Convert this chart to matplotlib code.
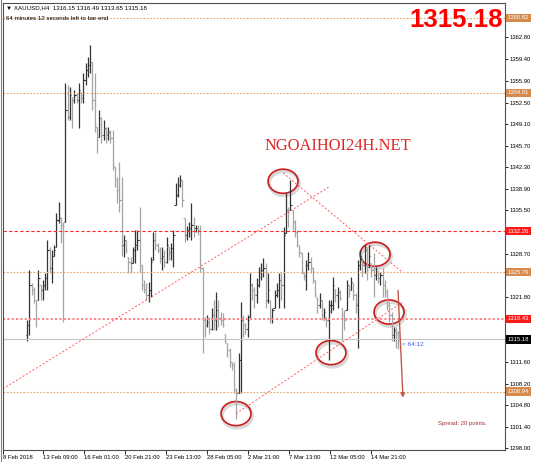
import matplotlib
matplotlib.use("Agg")
import matplotlib.pyplot as plt
import matplotlib.transforms as mtrans
from matplotlib.patches import Ellipse
from matplotlib.lines import Line2D
import numpy as np

# XAUUSD H4 bars (oldest -> newest)
highs = [
    1318.2, 1326.1, 1324.0, 1323.4, 1321.4, 1326.1, 1323.7, 1324.5, 1325.6, 1330.8,
    1329.7, 1329.2, 1330.0, 1335.1, 1336.8, 1334.4, 1333.7, 1355.6, 1355.3, 1354.9,
    1353.4, 1354.5, 1354.0, 1355.6, 1354.2, 1357.1, 1358.7, 1359.7, 1361.6, 1358.9,
    1357.1, 1348.6, 1351.3, 1350.2, 1349.7, 1348.6, 1348.6, 1348.2, 1348.2, 1342.3,
    1340.7, 1343.1, 1340.7, 1331.6, 1330.8, 1328.1, 1328.1, 1329.7, 1332.4, 1332.4,
    1336.0, 1326.9, 1324.5, 1324.0, 1324.2, 1328.1, 1332.1, 1332.1, 1330.3, 1329.7,
    1329.7, 1329.2, 1331.3, 1329.7, 1330.3, 1332.4, 1339.8, 1340.7, 1341.1, 1340.3,
    1334.3, 1333.0, 1333.7, 1336.6, 1334.4, 1333.2, 1333.2, 1333.2, 1326.6, 1318.7,
    1319.0, 1318.7, 1320.2, 1321.4, 1322.6, 1321.4, 1319.5, 1319.3, 1316.1, 1314.6,
    1313.8, 1311.6, 1311.6, 1307.6, 1313.0, 1321.0, 1319.0, 1317.7, 1319.0, 1325.6,
    1324.0, 1323.4, 1324.8, 1326.6, 1327.2, 1328.0, 1327.2, 1325.6, 1321.4, 1320.2,
    1322.9, 1324.0, 1325.6, 1325.6, 1332.9, 1338.2, 1336.0, 1340.3, 1335.5, 1334.0,
    1332.4, 1330.0, 1328.8, 1325.6, 1327.7, 1328.9, 1328.1, 1326.6, 1324.5, 1321.8,
    1322.5, 1321.4, 1320.2, 1318.7, 1321.4, 1321.4, 1325.0, 1323.2, 1323.4, 1322.9,
    1320.2, 1319.8, 1324.5, 1323.7, 1325.0, 1324.0, 1322.5, 1327.7, 1329.2, 1327.7,
    1330.0, 1329.7, 1330.0, 1327.2, 1328.8, 1326.6, 1326.1, 1325.8, 1326.4, 1324.5,
    1323.2, 1321.0, 1319.5, 1317.1, 1317.1, 1316.49]
lows = [
    1315.0, 1315.8, 1322.1, 1320.9, 1317.1, 1321.4, 1321.4, 1321.4, 1322.9, 1322.9,
    1325.6, 1324.0, 1328.4, 1329.7, 1333.5, 1330.3, 1317.9, 1333.7, 1349.7, 1349.7,
    1348.5, 1352.4, 1352.4, 1348.5, 1352.4, 1352.4, 1355.3, 1356.5, 1357.1, 1351.3,
    1347.8, 1344.5, 1347.1, 1346.1, 1346.6, 1346.1, 1346.6, 1346.1, 1341.8, 1339.2,
    1336.6, 1335.2, 1328.4, 1328.1, 1328.8, 1325.6, 1325.6, 1327.2, 1327.2, 1329.2,
    1325.8, 1322.9, 1322.5, 1321.4, 1321.0, 1321.8, 1327.7, 1329.2, 1328.8, 1327.2,
    1326.1, 1326.6, 1327.2, 1327.7, 1327.7, 1326.6, 1336.3, 1337.6, 1339.2, 1336.0,
    1330.5, 1330.8, 1331.3, 1330.8, 1331.3, 1332.1, 1331.6, 1325.8, 1313.1, 1315.5,
    1317.1, 1316.1, 1316.6, 1316.6, 1316.6, 1317.1, 1317.4, 1317.1, 1314.6, 1312.4,
    1310.8, 1310.3, 1306.7, 1302.7, 1306.7, 1306.7, 1315.5, 1316.1, 1315.5, 1318.7,
    1321.4, 1320.2, 1320.9, 1323.4, 1324.5, 1325.0, 1320.2, 1320.9, 1317.7, 1317.7,
    1320.2, 1321.8, 1320.2, 1321.4, 1320.2, 1331.9, 1332.9, 1335.5, 1332.4, 1331.3,
    1329.7, 1328.1, 1325.6, 1324.5, 1322.9, 1326.1, 1325.6, 1324.0, 1321.8, 1319.3,
    1320.2, 1318.2, 1318.2, 1317.1, 1311.9, 1319.3, 1319.8, 1321.0, 1320.2, 1321.4,
    1315.0, 1316.6, 1319.8, 1321.8, 1322.9, 1321.4, 1319.3, 1313.9, 1326.1, 1325.0,
    1325.6, 1324.5, 1326.6, 1325.0, 1321.8, 1324.5, 1324.0, 1323.7, 1321.8, 1321.8,
    1319.8, 1317.9, 1315.0, 1315.0, 1313.9, 1313.65]
opens = [
    1315.8, 1317.4, 1323.7, 1322.9, 1321.4, 1321.4, 1323.7, 1322.9, 1323.7, 1324.8,
    1329.2, 1326.4, 1328.4, 1329.7, 1334.0, 1334.3, 1333.2, 1333.7, 1351.3, 1350.2,
    1353.4, 1352.9, 1353.7, 1352.9, 1354.2, 1353.2, 1356.0, 1357.6, 1358.4, 1358.9,
    1352.9, 1348.6, 1347.1, 1350.1, 1347.4, 1348.5, 1347.4, 1347.8, 1346.9, 1342.3,
    1340.3, 1338.7, 1337.1, 1330.0, 1330.8, 1328.1, 1327.3, 1327.2, 1329.2, 1330.0,
    1330.8, 1326.9, 1323.7, 1323.2, 1322.1, 1322.9, 1327.7, 1330.8, 1330.0, 1329.2,
    1328.0, 1328.4, 1327.3, 1329.7, 1328.9, 1329.6, 1336.3, 1337.9, 1339.5, 1340.3,
    1334.3, 1331.6, 1332.4, 1332.7, 1333.2, 1332.7, 1332.7, 1332.4, 1326.4, 1318.2,
    1317.4, 1317.9, 1316.9, 1319.0, 1318.2, 1319.8, 1318.5, 1318.2, 1316.1, 1314.6,
    1313.5, 1311.6, 1311.1, 1307.2, 1306.8, 1311.9, 1318.2, 1317.4, 1316.9, 1318.7,
    1323.7, 1322.9, 1322.1, 1323.7, 1325.8, 1326.1, 1326.4, 1321.4, 1321.4, 1318.5,
    1320.2, 1322.1, 1322.9, 1324.5, 1323.7, 1331.9, 1335.5, 1335.5, 1335.5, 1333.7,
    1332.1, 1330.0, 1328.8, 1325.6, 1325.1, 1326.9, 1327.3, 1326.4, 1324.5, 1321.8,
    1320.6, 1321.4, 1319.0, 1318.7, 1318.2, 1320.6, 1320.6, 1323.2, 1322.1, 1322.6,
    1320.2, 1319.0, 1319.8, 1323.7, 1322.9, 1324.0, 1322.1, 1320.6, 1326.9, 1327.7,
    1326.9, 1329.2, 1326.6, 1327.2, 1326.1, 1325.3, 1325.8, 1324.8, 1325.3, 1323.7,
    1322.6, 1320.6, 1319.0, 1315.8, 1316.6, 1316.15]
closes = [
    1317.4, 1323.7, 1322.9, 1321.4, 1320.6, 1324.8, 1322.9, 1323.7, 1324.8, 1329.2,
    1326.4, 1328.4, 1329.2, 1334.0, 1334.3, 1333.2, 1333.0, 1351.3, 1350.2, 1353.7,
    1352.9, 1353.7, 1352.9, 1354.5, 1353.2, 1356.0, 1357.6, 1358.4, 1358.9, 1352.9,
    1348.9, 1346.6, 1350.1, 1347.4, 1348.5, 1347.4, 1347.8, 1346.9, 1342.6, 1340.3,
    1338.7, 1337.1, 1330.0, 1330.8, 1329.2, 1327.3, 1326.4, 1329.2, 1330.0, 1330.8,
    1326.9, 1323.7, 1323.2, 1322.1, 1322.9, 1327.3, 1330.8, 1330.0, 1329.2, 1328.0,
    1328.4, 1327.3, 1330.0, 1328.9, 1329.6, 1331.6, 1337.9, 1339.5, 1340.3, 1337.1,
    1331.6, 1332.4, 1332.7, 1333.2, 1332.7, 1332.7, 1332.4, 1326.4, 1318.2, 1317.4,
    1317.9, 1316.9, 1319.0, 1318.2, 1319.8, 1318.5, 1318.2, 1317.4, 1315.0, 1313.5,
    1311.6, 1311.1, 1307.2, 1306.8, 1311.9, 1318.2, 1317.4, 1316.9, 1318.2, 1323.7,
    1322.9, 1322.1, 1323.7, 1325.8, 1326.1, 1326.4, 1321.4, 1322.9, 1318.5, 1319.8,
    1322.1, 1322.9, 1324.5, 1323.7, 1331.6, 1335.5, 1335.2, 1336.3, 1333.7, 1332.1,
    1330.5, 1328.9, 1326.1, 1325.1, 1326.9, 1327.3, 1326.4, 1324.5, 1322.1, 1320.6,
    1321.4, 1319.0, 1319.5, 1318.2, 1320.6, 1320.6, 1323.7, 1322.1, 1322.6, 1321.7,
    1319.0, 1318.2, 1323.7, 1322.9, 1324.2, 1322.1, 1320.6, 1326.9, 1328.4, 1326.9,
    1329.2, 1326.1, 1328.4, 1326.1, 1325.3, 1325.8, 1324.8, 1325.3, 1323.7, 1322.6,
    1320.6, 1319.0, 1315.8, 1316.6, 1316.3, 1315.18]

# horizontal levels drawn on the chart
level_prices = [1365.82, 1354.01, 1332.26, 1325.79, 1318.43, 1306.94]
level_kinds = ["orange", "orange", "red", "orange", "pink", "orange"]
bid = 1315.18

# right price scale
ytick_vals = [1362.80, 1359.40, 1355.90, 1352.50, 1349.10, 1345.70, 1342.30,
              1338.90, 1335.50, 1328.70, 1321.80, 1311.60, 1308.20, 1304.80,
              1301.40, 1298.00]

# time scale (label text and bar position)
date_labels = ["8 Feb 2018", "13 Feb 09:00", "16 Feb 01:00", "20 Feb 21:00",
               "23 Feb 13:00", "28 Feb 05:00", "2 Mar 21:00", "7 Mar 13:00",
               "12 Mar 05:00", "14 Mar 21:00"]
date_bars = [-10.67, 7.11, 25.33, 43.56, 61.78, 80.0, 98.22, 116.44, 134.67, 152.89]

# drawn objects: (bar, price) pairs
trend_lines = [((-10.7, 1307.4), (134.2, 1339.2)),
               ((113.8, 1341.4), (166.7, 1325.8)),
               ((92.9, 1303.5), (166.7, 1321.0))]
circles = [(113.8, 1340.1), (154.7, 1328.6), (135.1, 1313.1),
           (160.9, 1319.5), (92.9, 1303.5)]
arrow_from = (164.9, 1322.9)
arrow_to = (167.1, 1306.0)

W, H = 534, 462
fig = plt.figure(figsize=(W / 100, H / 100), dpi=100)
ax = fig.add_axes([3 / W, 12 / H, 502 / W, 447 / H])
fig.patch.set_facecolor("white")

SANS = ["Liberation Sans", "DejaVu Sans"]
FS = 4.2

idx = np.arange(len(highs))
up = np.array(closes) >= np.array(opens)
cols = np.where(up, "#333333", "#a4a4a4")
ax.vlines(idx, lows, highs, colors=cols, lw=0.9)
ax.hlines(opens, idx - 0.6, idx, colors=cols, lw=0.8)
ax.hlines(closes, idx, idx + 0.6, colors=cols, lw=0.8)

styles = {
    "orange": dict(color="#e8a266", lw=0.8, ls=(0, (1.5, 1.5))),
    "red": dict(color="#ff2a2a", lw=0.8, ls=(0, (3, 2))),
    "pink": dict(color="#ff7a7a", lw=1.3, ls=(0, (1.2, 1.2))),
}
box_cols = {"orange": "#d68a4c", "red": "#ff1a1a", "pink": "#ff1a1a"}
ax.axhline(bid, color="#c4c4c4", lw=0.8)
for p, k in zip(level_prices, level_kinds):
    ax.axhline(p, **styles[k])

for (x1, y1), (x2, y2) in trend_lines:
    ax.plot([x1, x2], [y1, y2], color="#ff5a5a", lw=0.7, ls=(0, (2, 2)))

for cx, cy in circles:
    ax.add_patch(Ellipse((cx + 0.5, cy - 0.35), 13.3, 3.8, fill=False,
                         ec="#909090", lw=2.4, alpha=0.35))
    ax.add_patch(Ellipse((cx, cy), 13.3, 3.8, fill=False, ec="#cc1c1c", lw=1.2))

ax.annotate("", xy=arrow_to, xytext=arrow_from,
            arrowprops=dict(arrowstyle="-|>", color="#c4574a", lw=1.0,
                            mutation_scale=6, shrinkA=0, shrinkB=0))

ax.set_xlim((3 - 27) / 2.25, (505 - 27) / 2.25)
ax.set_ylim(1297.76, 1368.18)

ax.yaxis.tick_right()
ax.set_yticks(ytick_vals)
ax.set_yticklabels([f"{v:.2f}" for v in ytick_vals], family=SANS)
ax.tick_params(axis="y", direction="out", length=2, width=0.6, pad=1.5,
               labelsize=FS, colors="black")
ax.set_xticks(date_bars)
ax.set_xticklabels(date_labels, family=SANS)
ax.tick_params(axis="x", direction="out", length=3, width=0.6, pad=0.5,
               labelsize=FS)
for lbl in ax.get_xticklabels():
    lbl.set_ha("left")
for s in ax.spines.values():
    s.set_color("#505050")
    s.set_linewidth(0.8)

# price boxes on the scale
tr = mtrans.blended_transform_factory(ax.transAxes, ax.transData)
for p, k in zip(level_prices, level_kinds):
    ax.text(1.0 + 2.5 / 502, p, f"{p:.2f}", transform=tr, ha="left", va="center",
            fontsize=FS, family=SANS, color="white", clip_on=False,
            bbox=dict(boxstyle="square,pad=0.3", fc=box_cols[k], ec="none"))
ax.text(1.0 + 2.5 / 502, bid, f"{bid:.2f}", transform=tr, ha="left", va="center",
        fontsize=FS, family=SANS, color="white", clip_on=False,
        bbox=dict(boxstyle="square,pad=0.3", fc="black", ec="none"))

# texts
fig.text(6 / W, 1 - 8 / H,
         f"\u25bc XAUUSD,H4  {opens[-1]:.2f} {highs[-1]:.2f} {lows[-1]:.2f} {closes[-1]:.2f}",
         fontsize=4.4, family=SANS, va="center", ha="left")
fig.text(6 / W, 1 - 18 / H, "64 minutes 12 seconds left to bar end",
         fontsize=4.4, family=SANS, va="center", ha="left")
fig.text(503 / W, 1 - 20 / H, f"{bid:.2f}", fontsize=18.5, fontweight="bold",
         color="#ff0000", ha="right", va="center",
         family=["Liberation Sans", "DejaVu Sans"])
fig.text(338 / W, 1 - 146 / H, "NGOAIHOI24H.NET", fontsize=11.9,
         family=["Liberation Serif", "DejaVu Serif"], color="#e02424",
         ha="center", va="center")
fig.text(402 / W, 1 - 344 / H, "< 64:12", fontsize=4.6, family=SANS,
         color="#3d5cff", ha="left", va="center")
fig.text(438 / W, 1 - 424 / H, "Spread: 20 points.", fontsize=4.3, family=SANS,
         color="#a83232", ha="left", va="center")

fig.add_artist(Line2D([0.7 / W, 0.7 / W], [0, 1], color="#808080", lw=0.8))

fig.savefig("out.png", dpi=100)
